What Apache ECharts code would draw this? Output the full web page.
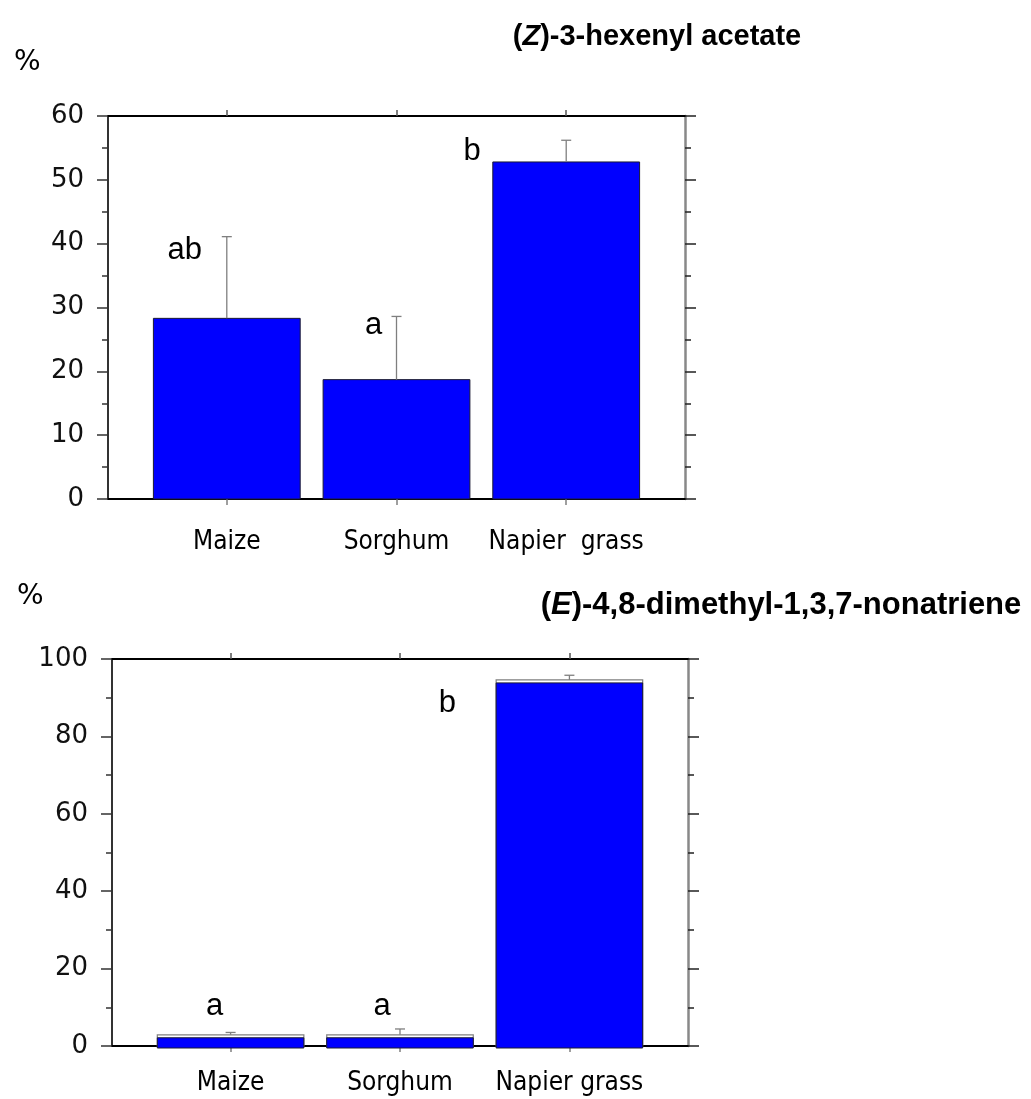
<!DOCTYPE html>
<html>
<head>
<meta charset="utf-8">
<script src="https://cdn.jsdelivr.net/npm/echarts@6/dist/echarts.min.js"></script>
<style>html,body{margin:0;padding:0;background:#fff;}#c{width:1031px;height:1099px;}</style>
</head>
<body>
<div id="c"></div>
<script>
// ---- data ----
const categories = ['Maize', 'Sorghum', 'Napier  grass'];
const categories2 = ['Maize', 'Sorghum', 'Napier grass'];
const hexenylMean = [28.3, 18.7, 52.8];
const hexenylErr = [12.8, 9.9, 3.4];
const hexenylLetters = ['ab', 'a', 'b'];
const dmntMean = [2.9, 2.9, 94.6];
const dmntErr = [0.6, 1.5, 1.2];
const dmntLetters = ['a', 'a', 'b'];
const yTicksTop = [0, 10, 20, 30, 40, 50, 60];
const yTicksBottom = [0, 20, 40, 60, 80, 100];

const catPos = categories.map((c, i) => i + 1);
const BAR_W = 0.865;
const ERR_COLOR = '#7f7f7f';
const tickFont = '"DejaVu Sans", Verdana, sans-serif';
const catFont = '"DejaVu Sans Condensed", "Liberation Sans Narrow", "DejaVu Sans", sans-serif';

function barRender(stripe) {
  return function (params, api) {
    const x = api.value(0), v = api.value(1);
    const top = api.coord([x, v]);
    const base = api.coord([x, 0]);
    const w = api.size([BAR_W, 0])[0];
    if (!stripe) {
      return {
        type: 'rect',
        shape: { x: top[0] - w / 2, y: top[1], width: w, height: base[1] - top[1] },
        style: { fill: '#0000ff', stroke: '#1a1a33', lineWidth: 1 }
      };
    }
    return {
      type: 'group',
      children: [
        { type: 'rect', shape: { x: top[0] - w / 2, y: top[1], width: w, height: base[1] - top[1] },
          style: { fill: '#ffffff', stroke: '#808080', lineWidth: 1.2 } },
        { type: 'rect', shape: { x: top[0] - w / 2, y: top[1] + 3, width: w, height: base[1] - top[1] - 3 + 2 },
          style: { fill: '#0000ff', stroke: '#1a1a33', lineWidth: 1 } }
      ]
    };
  };
}

function errRender(params, api) {
  const x = api.value(0), v = api.value(1), e = api.value(2);
  const p0 = api.coord([x, v]);
  const p1 = api.coord([x, v + e]);
  return {
    type: 'group',
    children: [
      { type: 'line', shape: { x1: p0[0], y1: p0[1], x2: p1[0], y2: p1[1] }, style: { stroke: ERR_COLOR, lineWidth: 1.3 } },
      { type: 'line', shape: { x1: p1[0] - 5, y1: p1[1], x2: p1[0] + 5, y2: p1[1] }, style: { stroke: ERR_COLOR, lineWidth: 1.3 } }
    ]
  };
}

function letterRender(letters, offsets) {
  return function (params, api) {
    const x = api.value(0), v = api.value(1) + api.value(2);
    const p = api.coord([x, v]);
    const o = offsets[params.dataIndex];
    return {
      type: 'text',
      x: p[0] + o[0], y: p[1] + o[1],
      style: { text: letters[params.dataIndex], font: '31px "Liberation Sans", Arial, sans-serif', fill: '#000', align: 'center', verticalAlign: 'middle' }
    };
  };
}
const lettersTopOffset = [[-42, 14], [-23, 9], [-94, 11]];
const lettersBottomOffset = [[-16, -26], [-18, -23], [-122, 28]];

function xAxes(gridIndex, names, labelMargin) {
  const common = {
    type: 'value', gridIndex: gridIndex, min: 0.3, max: 3.7,
    splitLine: { show: false },
  };
  return [
    Object.assign({}, common, {
      position: 'bottom',
      axisLine: { show: true, onZero: false, lineStyle: { color: '#000', width: 2 } },
      axisTick: { show: true, customValues: catPos, length: 6, lineStyle: { color: '#808080', width: 1.5 } },
      axisLabel: { show: true, customValues: catPos, margin: labelMargin,
        formatter: v => names[Math.round(v) - 1] || '', color: '#000', fontSize: 26, fontFamily: catFont }
    }),
    Object.assign({}, common, {
      position: 'top',
      axisLine: { show: true, onZero: false, lineStyle: { color: '#000', width: 2 } },
      axisTick: { show: true, customValues: catPos, length: 6, lineStyle: { color: '#555', width: 1.5 } },
      axisLabel: { show: false }
    })
  ];
}

function yAxes(gridIndex, max, interval, ticks) {
  return [
    { type: 'value', gridIndex: gridIndex, position: 'left', min: 0, max: max, interval: interval,
      axisLine: { show: true, lineStyle: { color: '#333', width: 2 } },
      axisTick: { show: true, length: 11, lineStyle: { color: '#333', width: 1.5 } },
      minorTick: { show: true, splitNumber: 2, length: 6, lineStyle: { color: '#333', width: 1.5 } },
      axisLabel: { show: true, margin: 24, color: '#111', fontSize: 26, fontFamily: tickFont,
        formatter: v => ticks.indexOf(v) >= 0 ? String(v) : '' },
      splitLine: { show: false } },
    { type: 'value', gridIndex: gridIndex, position: 'right', min: 0, max: max, interval: interval,
      axisLine: { show: true, lineStyle: { color: '#888', width: 2.5 } },
      axisTick: { show: true, length: 11, lineStyle: { color: '#222', width: 1.5 } },
      minorTick: { show: true, splitNumber: 2, length: 6, lineStyle: { color: '#222', width: 1.5 } },
      axisLabel: { show: false },
      splitLine: { show: false } }
  ];
}

const xa = xAxes(0, categories, 30).concat(xAxes(1, categories2, 24));
const ya = yAxes(0, 60, 10, yTicksTop).concat(yAxes(1, 100, 20, yTicksBottom));

function seriesFor(xBottomIdx, yLeftIdx, mean, err, letters, stripe, offsets) {
  const barData = mean.map((m, i) => [catPos[i], m]);
  const errData = mean.map((m, i) => [catPos[i], m, err[i]]);
  return [
    { type: 'custom', xAxisIndex: xBottomIdx, yAxisIndex: yLeftIdx, renderItem: barRender(stripe), data: barData, z: 2, clip: false },
    { type: 'custom', xAxisIndex: xBottomIdx, yAxisIndex: yLeftIdx, renderItem: errRender, data: errData, z: 3, clip: false },
    { type: 'custom', xAxisIndex: xBottomIdx, yAxisIndex: yLeftIdx, renderItem: letterRender(letters, offsets), data: errData, z: 4, clip: false }
  ];
}

const titleFont = '"Liberation Sans", Arial, sans-serif';
const chart = echarts.init(document.getElementById('c'), null, { renderer: 'canvas' });
chart.setOption({
  animation: false,
  backgroundColor: '#fff',
  title: [
    { text: '({i|Z})-3-hexenyl acetate', left: 652, top: 32, textAlign: 'center', textVerticalAlign: 'middle',
      textStyle: { fontFamily: titleFont, fontWeight: 'bold', fontSize: 29, color: '#000',
        rich: { i: { fontStyle: 'italic', fontWeight: 'bold', fontSize: 29, fontFamily: titleFont } } } },
    { text: '({i|E})-4,8-dimethyl-1,3,7-nonatriene', left: 776, top: 600, textAlign: 'center', textVerticalAlign: 'middle',
      textStyle: { fontFamily: titleFont, fontWeight: 'bold', fontSize: 31, color: '#000',
        rich: { i: { fontStyle: 'italic', fontWeight: 'bold', fontSize: 31, fontFamily: titleFont } } } }
  ],
  graphic: [
    { type: 'text', left: 14, top: 49, style: { text: '%', font: '28px "DejaVu Sans", sans-serif', fill: '#000' } },
    { type: 'text', left: 17, top: 583, style: { text: '%', font: '28px "DejaVu Sans", sans-serif', fill: '#000' } }
  ],
  grid: [
    { left: 108, top: 116, width: 577, height: 383, containLabel: false },
    { left: 112, top: 659, width: 576, height: 387, containLabel: false }
  ],
  xAxis: xa,
  yAxis: ya,
  series: [].concat(
    seriesFor(0, 0, hexenylMean, hexenylErr, hexenylLetters, false, lettersTopOffset),
    seriesFor(2, 2, dmntMean, dmntErr, dmntLetters, true, lettersBottomOffset)
  )
});
</script>
</body>
</html>
